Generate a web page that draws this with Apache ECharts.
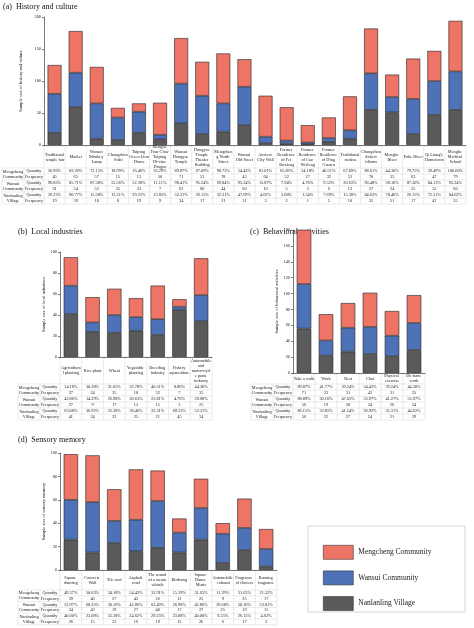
<!DOCTYPE html><html><head><meta charset="utf-8">
<script src="https://cdn.jsdelivr.net/npm/echarts@6/dist/echarts.min.js"></script>
<style>html,body{margin:0;background:#fff}#c{width:474px;height:628px}</style></head><body><div id="c"></div>
<script>
const catsA=["Traditional temple fair","Market","Wansui Monkey Lamp","Changzhou Sishi","Taiping Green Lion Dance","Menghe Four Claw Taiping Di-vine Dragon","Wansui Dongyue Temple","Dongyue Temple Theater Building","Mengcheng North Street","Wansui Old Street","Ancient City Wall","Former Residence of Fei Boxiong","Former Residence of Cao Weifeng","Former Residence of Ding Ganren","Traditional cuisine","Changzhou dialect idioms","Menghe River","Pohe River","Qi Liang's Hometown","Menghe Medical School"];
const mengA=[45,65,57,15,13,50,71,53,78,43,64,52,27,32,53,70,35,63,47,79];
const wanA=[61,54,55,35,33,7,62,60,44,60,10,5,3,6,13,57,24,55,53,60];
const nanA=[19,59,10,8,19,9,34,17,21,31,3,2,1,5,10,55,51,17,47,55];
const catsB=["Agricultural planting","Rice plant","Wheat","Vegetable planting","Breeding industry","Fishery aquaculture","Automobile and motor-cycle parts industry"];
const mengB=[27,24,25,18,32,7,35];
const wanB=[27,9,17,13,15,3,25];
const nanB=[41,24,23,25,21,45,34];
const catsC=["Take a walk","Work","Rest","Chat","Physical exercise","Do farm work"];
const mengC=[71,33,31,43,31,35];
const wanC=[56,19,30,34,26,34];
const nanC=[56,22,27,24,21,29];
const catsD=["Square dancing","Concrete Wall","Tile roof","Asphalt road","The sound of a steam whistle","Birdsong","Square Dance Music","Automobile exhaust","Fragrance of flowers","Burning fragrance"];
const mengD=[39,40,27,43,26,12,25,9,25,17];
const wanD=[34,43,19,27,40,17,27,25,19,15];
const nanD=[26,15,23,16,19,15,26,6,17,3];
const groupSizes=[79,63,65];
const groupNames=["Mengcheng\nCommunity","Wansui\nCommunity","Nanlanling\nVillage"];
const legendNames=["Mengcheng Community","Wansui Community","Nanlanling Village"];
const colors=["#EE7566","#4E72B8","#5A5A5A"];
const F="Liberation Serif";

const panels=[
 {cats:catsA,m:mengA,w:wanA,n:nanA,grid:{left:44,top:17,width:422,height:128},max:200,int:50,name:"Sample size of history and culture",hdr:[146,168],rowH:6,fs:4.3},
 {cats:catsB,m:mengB,w:wanB,n:nanB,grid:{left:60,top:252,width:152,height:105},max:100,int:20,name:"Sample size of local industries",hdr:[357,384],rowH:6,fs:4.3},
 {cats:catsC,m:mengC,w:wanC,n:nanC,grid:{left:293,top:230,width:132,height:143},max:180,int:20,name:"Sample size of behavioral activities",hdr:[373,384],rowH:6,fs:4.3},
 {cats:catsD,m:mengD,w:wanD,n:nanD,grid:{left:60,top:453,width:217,height:117},max:100,int:20,name:"Sample size of sensory memory",hdr:[570,590],rowH:5.8,fs:4.3}
];
const chart=echarts.init(document.getElementById('c'),null,{renderer:'canvas'});
const opt={animation:false,textStyle:{fontFamily:F},grid:[],xAxis:[],yAxis:[],series:[],
 legend:{orient:'vertical',left:318,top:540,itemWidth:30,itemHeight:14,itemGap:11,data:legendNames.slice(),textStyle:{fontFamily:F,fontSize:7.5,color:'#222'},icon:'rect',itemStyle:{borderColor:'#333',borderWidth:0.6}},
 graphic:[]};
panels.forEach((p,i)=>{
 opt.grid.push(p.grid);
 opt.xAxis.push({type:'category',gridIndex:i,data:p.cats,axisLabel:{show:false},axisTick:{show:false},axisLine:{lineStyle:{color:'#222',width:0.6}}});
 opt.yAxis.push({type:'value',gridIndex:i,min:0,max:p.max,interval:p.int,splitLine:{show:false},axisLine:{show:true,lineStyle:{color:'#222',width:0.6}},axisTick:{show:true,length:2,lineStyle:{width:0.6}},axisLabel:{fontSize:4.3,margin:3,color:'#222',fontFamily:F},name:p.name,nameLocation:'middle',nameGap:14,nameTextStyle:{fontSize:4.5,fontFamily:F,color:'#222'}});
 [[p.n,2],[p.w,1],[p.m,0]].forEach(([d,k])=>opt.series.push({type:'bar',name:legendNames[k],xAxisIndex:i,yAxisIndex:i,stack:'s'+i,data:d,barWidth:'66%',itemStyle:{color:colors[k],borderColor:'#222',borderWidth:0.6}}));
});
opt.graphic.push({type:'text',left:3,top:3,style:{text:'(a)  History and culture',font:'8px "Liberation Serif"',fill:'#111'}});
opt.graphic.push({type:'text',left:18,top:228,style:{text:'(b)  Local industries',font:'8px "Liberation Serif"',fill:'#111'}});
opt.graphic.push({type:'text',left:250,top:228,style:{text:'(c)  Behavioral activities',font:'8px "Liberation Serif"',fill:'#111'}});
opt.graphic.push({type:'text',left:18,top:436,style:{text:'(d)  Sensory memory',font:'8px "Liberation Serif"',fill:'#111'}});
opt.graphic.push({type:'rect',shape:{x:308,y:526,width:157,height:86},style:{fill:'none',stroke:'#bbb',lineWidth:0.6}});
chart.setOption(opt);
const g=opt.graphic;
const line=(x1,y1,x2,y2)=>g.push({type:'line',shape:{x1,y1,x2,y2},style:{stroke:'#ccc',lineWidth:0.4},silent:true});
const txt=(x,y,s,fs,w)=>g.push({type:'text',x,y,style:{text:s,fontFamily:F,fontSize:fs,fill:'#222',align:'center',verticalAlign:'middle',width:w,overflow:'break',lineHeight:fs*1.15}});
panels.forEach((p,i)=>{
 const xs=p.cats.map((c,k)=>chart.convertToPixel({xAxisIndex:i},k));
 const bw=xs.length>1?xs[1]-xs[0]:20;
 const L=xs[0]-bw/2,R=xs[xs.length-1]+bw/2;
 const rows=[p.m,p.w,p.n];
 const y0=p.hdr[1], yEnd=y0+6*p.rowH;
 const labL=L-42;
 p.cats.forEach((c,k)=>txt(xs[k],(p.hdr[0]+p.hdr[1])/2,c,p.fs,bw-1));
 for(let k=0;k<=xs.length;k++){const x=L+k*bw;line(x,p.hdr[0],x,yEnd);}
 line(labL+22,y0,labL+22,yEnd);line(labL,y0,labL,yEnd);
 line(L,p.hdr[0],R,p.hdr[0]);
 for(let r=0;r<=6;r++){line(r%2===0?labL:labL+22,y0+r*p.rowH,R,y0+r*p.rowH);}
 rows.forEach((d,gi)=>{
  const ya=y0+(2*gi+0.5)*p.rowH, yb=y0+(2*gi+1.5)*p.rowH;
  txt(labL+11,y0+(2*gi+1)*p.rowH,groupNames[gi],p.fs,30);
  txt(labL+32,ya,'Quantity',p.fs,20);txt(labL+32,yb,'Frequency',p.fs,20);
  d.forEach((v,k)=>{txt(xs[k],ya,(v/groupSizes[gi]*100).toFixed(2)+'%',p.fs,bw);txt(xs[k],yb,String(v),p.fs,bw);});
 });
});
chart.setOption({graphic:g});
</script></body></html>
